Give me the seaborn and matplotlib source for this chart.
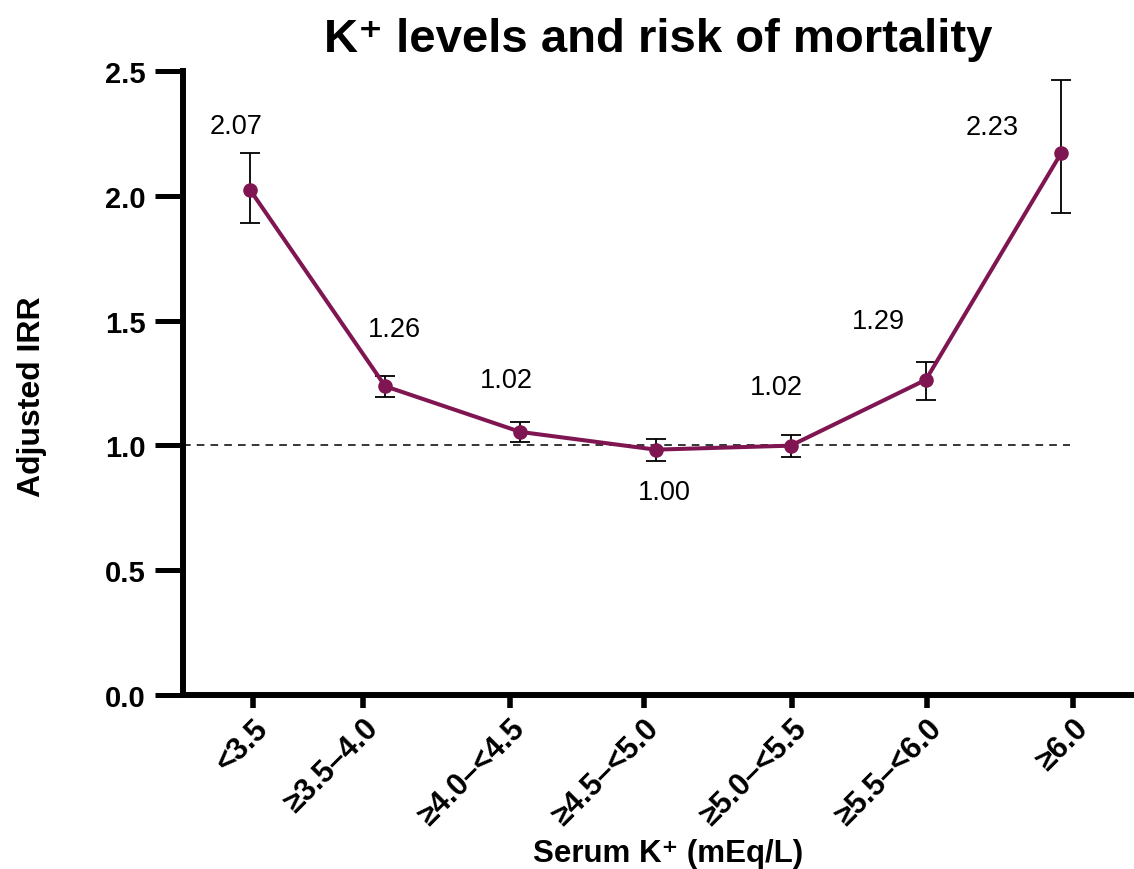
import matplotlib
matplotlib.use("Agg")
import matplotlib.pyplot as plt
import matplotlib.transforms as mtransforms
import seaborn as sns
import pandas as pd
import numpy as np

# ---- data ----
categories = ["<3.5", "≥3.5–4.0", "≥4.0–<4.5", "≥4.5–<5.0", "≥5.0–<5.5", "≥5.5–<6.0", "≥6.0"]
irr = [2.024, 1.237, 1.054, 0.983, 0.999, 1.263, 2.170]
ci_low = [1.890, 1.195, 1.014, 0.938, 0.952, 1.182, 1.931]
ci_high = [2.171, 1.279, 1.094, 1.026, 1.042, 1.335, 2.465]
labels = ["2.07", "1.26", "1.02", "1.00", "1.02", "1.29", "2.23"]

# ---- layout (not data) ----
tick_pos = [0.022, 0.836, 1.923, 2.914, 4.009, 5.007, 6.087]
label_offsets_px = [(-14, 64), (9, 57), (-14, 52), (9, -42), (-14, 59), (-47, 59), (-69, 26)]

sns.set_theme(style="ticks")
plt.rcParams["font.family"] = ["Liberation Sans", "DejaVu Sans"]
plt.rcParams["text.color"] = "black"
plt.rcParams["axes.labelcolor"] = "black"
plt.rcParams["xtick.color"] = "black"
plt.rcParams["ytick.color"] = "black"

line_color = "#7F1651"

df = pd.DataFrame({"pos": np.arange(len(categories)), "irr": irr,
                   "lo": ci_low, "hi": ci_high})

fig = plt.figure(figsize=(11.34, 8.70), dpi=100)
ax = fig.add_axes([183 / 1134, 174 / 870, (1134 - 183) / 1134, (696 - 72) / 870])

yerr = np.vstack([df["irr"] - df["lo"], df["hi"] - df["irr"]])
ax.errorbar(df["pos"], df["irr"], yerr=yerr, fmt="none", ecolor="black",
            elinewidth=1.3, capsize=7.5, capthick=1.3, zorder=2)
ax.axhline(1.0, xmin=0, xmax=0.933, color="black", lw=1.1, ls=(0, (5, 4)), zorder=1)
sns.lineplot(data=df, x="pos", y="irr", ax=ax, color=line_color, lw=2.9,
             marker="o", markersize=10.5, markeredgecolor=line_color,
             markeredgewidth=0, zorder=3)

for i, (txt, (dx, dy)) in enumerate(zip(labels, label_offsets_px)):
    ax.annotate(txt, xy=(df["pos"][i], df["irr"][i]), xytext=(dx, dy),
                textcoords="offset pixels", ha="center", va="center",
                fontsize=19.5, color="black")

ax.set_xlim(-0.496, 6.54)
ax.set_ylim(0, 2.5)
ax.set_yticks([0, 0.5, 1.0, 1.5, 2.0, 2.5])
ax.set_yticklabels(["0.0", "0.5", "1.0", "1.5", "2.0", "2.5"], fontsize=21, fontweight="bold")
ax.set_xticks(tick_pos)
ax.set_xticklabels(categories, fontsize=22, fontweight="bold", rotation=45,
                   ha="right", va="top", rotation_mode="anchor")
offset = mtransforms.ScaledTranslation(14 / 100, -4 / 100, fig.dpi_scale_trans)
for lab in ax.get_xticklabels():
    lab.set_transform(lab.get_transform() + offset)

for s in ["top", "right"]:
    ax.spines[s].set_visible(False)
for s in ["left", "bottom"]:
    ax.spines[s].set_linewidth(4.3)
    ax.spines[s].set_color("black")
ax.tick_params(axis="y", direction="out", length=20, width=3.6, pad=7)
ax.tick_params(axis="x", direction="out", length=9, width=4, pad=4)

ax.set_ylabel("Adjusted IRR", fontsize=23, fontweight="bold")
ax.yaxis.set_label_coords(-0.143, 0.479)
ax.set_xlabel("Serum K⁺ (mEq/L)", fontsize=22.5, fontweight="bold")
ax.xaxis.set_label_coords(0.510, -0.2285)
ax.set_title("K⁺ levels and risk of mortality", fontsize=34, fontweight="bold",
             y=1.032, pad=0)

fig.savefig("out.png", dpi=100)
